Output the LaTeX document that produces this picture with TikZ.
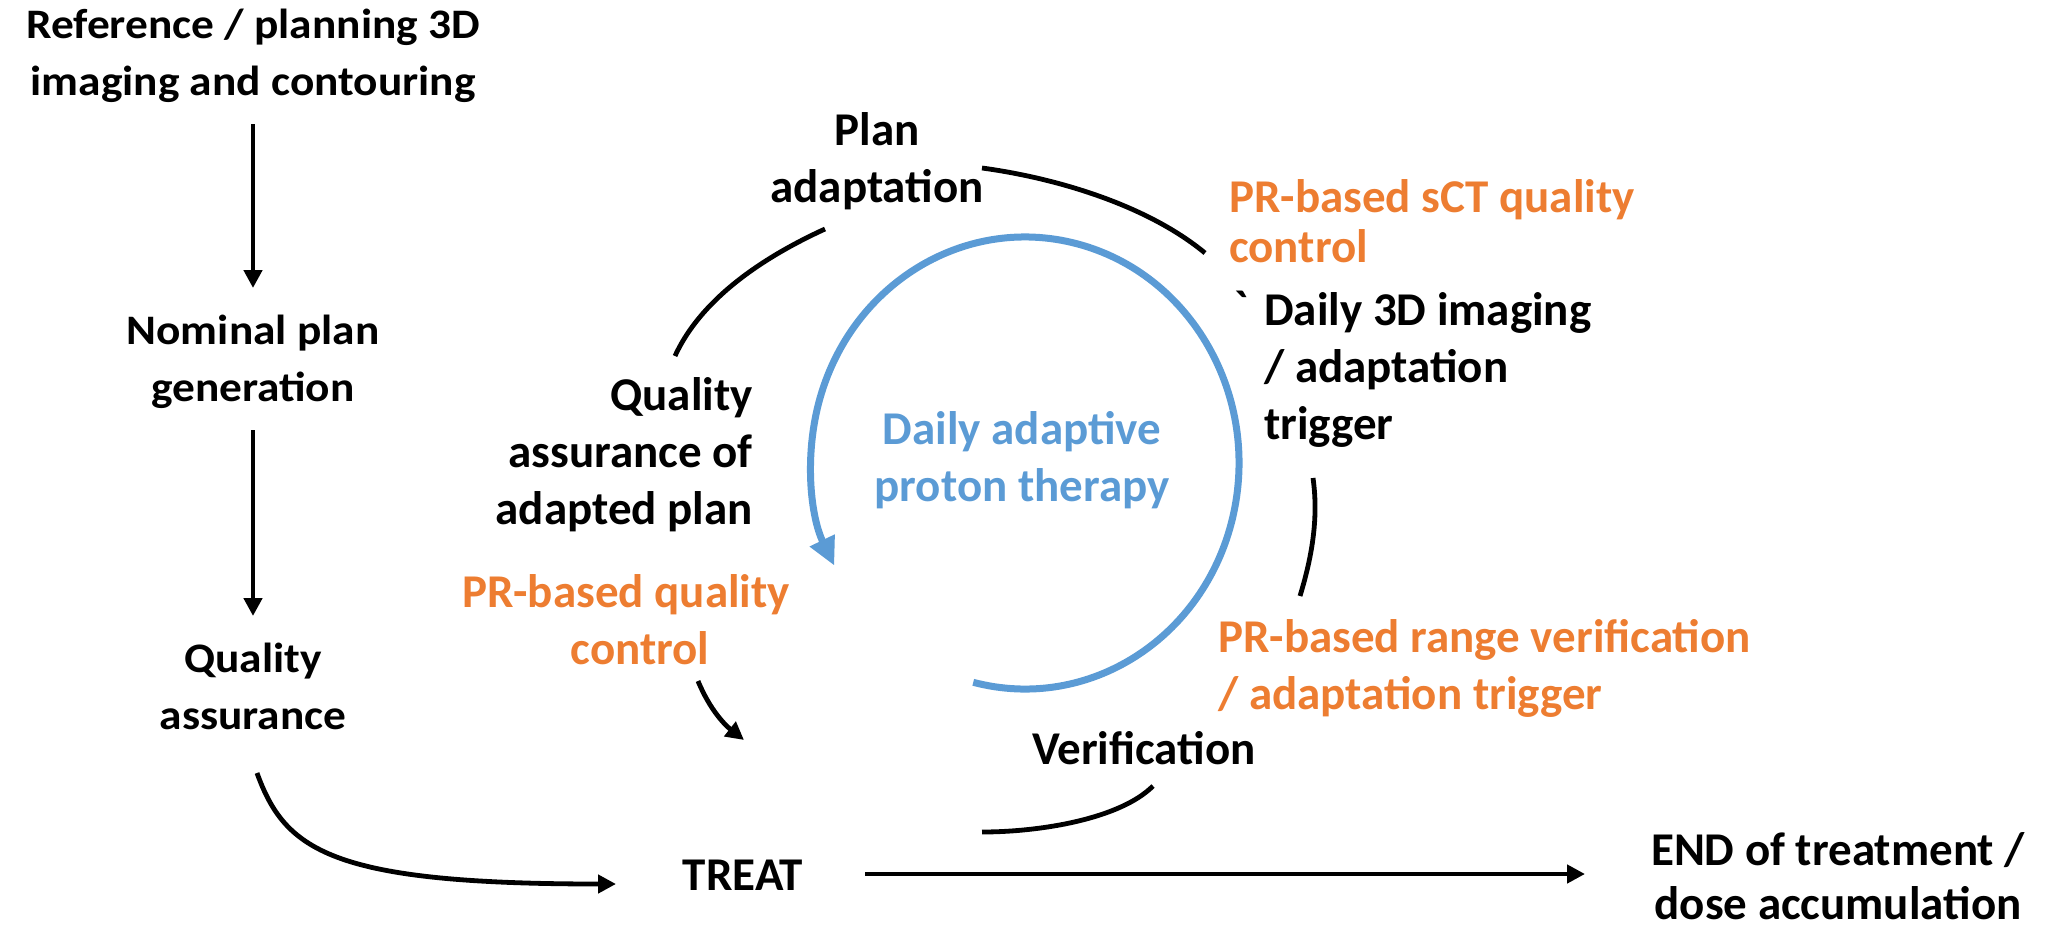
\documentclass[tikz,border=0pt]{standalone}
\usepackage{fontspec}
\setmainfont{Carlito}
\newfontfamily\widefont{Carlito}[FakeStretch=1.08]
\newfontfamily\gravefont{Carlito}[Ligatures=TeXOff]
\usetikzlibrary{arrows.meta}
\definecolor{orng}{RGB}{237,125,49}
\definecolor{blu}{RGB}{91,155,213}
\begin{document}
\begin{tikzpicture}[x=1pt,y=1pt,
  txt/.style={font=\fontsize{47}{57}\selectfont\bfseries, inner sep=0pt, align=center},
  ltxt/.style={font=\widefont\fontsize{42}{57}\selectfont\bfseries, inner sep=0pt, align=center},
  otxt/.style={txt, text=orng},
  arr/.style={line width=4.8pt, -{Triangle[length=18pt,width=18pt]}},
  arc/.style={line width=4.8pt},
  blue arc/.style={line width=7pt, draw=blu, -{Triangle[length=28pt,width=26pt]}}]
\useasboundingbox (0,0) rectangle (2054,-930);
% left column
\node[ltxt] (ref) at (253,-56) {Reference / planning 3D\\imaging and contouring};
\node[ltxt] (nom) at (253,-362) {Nominal plan\\generation};
\node[ltxt] (qa) at (253,-686) {Quality\\assurance};
\node[txt] (treat) at (743,-875) {TREAT};
\node[txt, font=\fontsize{47}{54}\selectfont\bfseries] (end) at (1838,-876) {END of treatment /\\dose accumulation};
% cycle
\node[txt] (plan) at (877,-161) {Plan\\adaptation};
\node[otxt, anchor=west, align=left, font=\fontsize{47}{50}\selectfont\bfseries] (sct) at (1229,-221) {PR-based sCT quality\\control};
\node[txt, anchor=north, font=\gravefont\fontsize{47}{57}\selectfont\bfseries] (tick) at (1242,-291) {\symbol{96}};
\node[txt, anchor=west, align=left] (daily) at (1264,-370) {Daily 3D imaging\\/ adaptation\\trigger};
\node[otxt, anchor=west, align=left] (range) at (1218,-668) {PR-based range verification\\/ adaptation trigger};
\node[txt] (verif) at (1144,-748) {Verification};
\node[txt, anchor=east, align=right] (qaa) at (753,-455) {Quality\\assurance of\\adapted plan};
\node[otxt] (prq) at (626,-620) {PR-based quality\\\hspace*{28pt}control};
\node[txt, text=blu] (dapt) at (1022,-460) {Daily adaptive\\proton therapy};
% coordinates
\coordinate (a1s) at (253,-124); \coordinate (a1e) at (253,-288);
\coordinate (a2s) at (253,-430); \coordinate (a2e) at (253,-616);
\coordinate (c1s) at (257,-773); \coordinate (c1e) at (616,-884);
\coordinate (t1s) at (865,-874); \coordinate (t1e) at (1585,-874);
\coordinate (tr1) at (982,-168); \coordinate (tr2) at (1205,-253);
\coordinate (r1) at (1313,-478); \coordinate (r2) at (1300,-596);
\coordinate (b1) at (1153,-786); \coordinate (b2) at (982,-832);
\coordinate (l1) at (675,-356); \coordinate (l2) at (825,-229);
\coordinate (s1) at (698,-681); \coordinate (s2) at (744,-740);
\coordinate (bc) at (1025,-463);
% connectors
\draw[arr] (a1s) -- (a1e);
\draw[arr] (a2s) -- (a2e);
\draw[arr] (c1s) .. controls (285,-850) and (330,-884) .. (c1e);
\draw[arr] (t1s) -- (t1e);
\draw[arc] (tr1) .. controls (1056,-178) and (1147,-205) .. (tr2);
\draw[arc] (r1) .. controls (1319,-520) and (1311,-560) .. (r2);
\draw[arc] (b1) .. controls (1120,-819) and (1040,-832) .. (b2);
\draw[arc] (l1) .. controls (702,-297) and (766,-256) .. (l2);
\draw[arr] (s1) .. controls (710,-710) and (725,-725) .. (s2);
\draw[blue arc] (bc) ++(-104:214 and 226) arc[start angle=-104, end angle=207, x radius=214, y radius=226];
\end{tikzpicture}
\end{document}
